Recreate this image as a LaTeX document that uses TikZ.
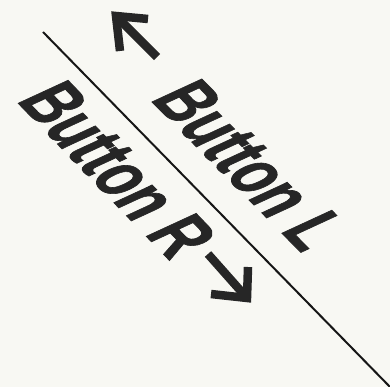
\documentclass[tikz,border=0pt]{standalone}
\usepackage{fontspec}
\setmainfont{Liberation Sans}
\newfontfamily\heavyfont{Liberation Sans Bold}[FakeBold=1.2]
\definecolor{bgcream}{RGB}{248,248,243}
\definecolor{inkgray}{RGB}{38,38,38}
\definecolor{linegray}{RGB}{22,22,22}
\begin{document}
\begin{tikzpicture}[x=1pt,y=-1pt,
  lbl/.style={inner sep=0pt, anchor=base west, transform shape,
    font=\heavyfont\fontsize{40}{48}\selectfont, text=inkgray},
  arr/.style={draw=inkgray, line width=8.5pt, line join=miter, line cap=butt},
  divider/.style={draw=linegray, line width=2pt}]
\fill[bgcream] (0,0) rectangle (390,387);
\useasboundingbox (0,0) rectangle (390,387);
% dividing line
\coordinate (ls) at (43,32);
\coordinate (le) at (392,389);
\draw[divider] (ls) -- (le);
% labels
\begin{scope}[shift={(149.3,99.2)}, cm={0.9285,-0.9383,1.807,0.834,(0,0)}]
  \node[lbl] (btnL) at (0,0) {Button L};
\end{scope}
\begin{scope}[shift={(15.6,100.5)}, cm={0.9153,-0.9512,1.807,0.834,(0,0)}]
  \node[lbl] (btnR) at (0,0) {Button R};
\end{scope}
% arrow L
\coordinate (aLtip) at (116,16);
\coordinate (aLw1) at (148,19);
\coordinate (aLw2) at (120,51);
\coordinate (aLtail) at (157,57);
\draw[arr] (aLw1) -- (aLtip) -- (aLw2);
\draw[arr] (aLtail) -- (aLtip);
% arrow R
\coordinate (aRtip) at (247,298);
\coordinate (aRw1) at (248,267);
\coordinate (aRw2) at (211,294);
\coordinate (aRtail) at (208,254);
\draw[arr] (aRw1) -- (aRtip) -- (aRw2);
\draw[arr] (aRtail) -- (aRtip);
\end{tikzpicture}
\end{document}
